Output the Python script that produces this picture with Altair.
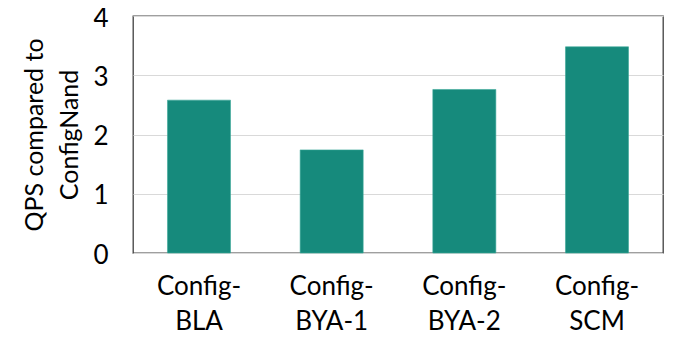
import altair as alt
import pandas as pd

categories = ["Config-BLA", "Config-BYA-1", "Config-BYA-2", "Config-SCM"]
values = [2.58, 1.74, 2.76, 3.48]

df = pd.DataFrame({"config": categories, "qps": values})

FONT = "Lato"

chart = alt.Chart(df).mark_bar(color="#168a7c", stroke="#3aa898", strokeWidth=0.6).encode(
    x=alt.X("config:N", sort=categories, title=None,
            scale=alt.Scale(paddingInner=0.525, paddingOuter=0.26),
            axis=alt.Axis(labelExpr="['Config-', substring(datum.label, 7)]",
                          labelAngle=0, labelFontSize=26, labelFont=FONT, labelColor="#000000",
                          labelLineHeight=35, labelPadding=20, ticks=False, domain=False, grid=False)),
    y=alt.Y("qps:Q", title=["QPS compared to", "ConfigNand"],
            scale=alt.Scale(domain=[0, 4], nice=False),
            axis=alt.Axis(values=[0, 1, 2, 3, 4], format="d", labelFontSize=26, labelFont=FONT,
                          labelColor="#000000", labelPadding=25, labelOffset=2, ticks=False, domain=False,
                          gridColor="#d9d9d9", gridWidth=1.2,
                          titleFontSize=25, titleFont=FONT, titleFontWeight="normal",
                          titleColor="#000000", titleLineHeight=35, titlePadding=10)),
).properties(
    width=530, height=237,
    autosize=alt.AutoSizeParams(type="none"),
    padding={"left": 125, "top": 8, "right": 11, "bottom": 90},
).configure_view(stroke="#404040", strokeWidth=1.3)

chart.save("out.html", embed_options={"renderer": "svg", "actions": False})
